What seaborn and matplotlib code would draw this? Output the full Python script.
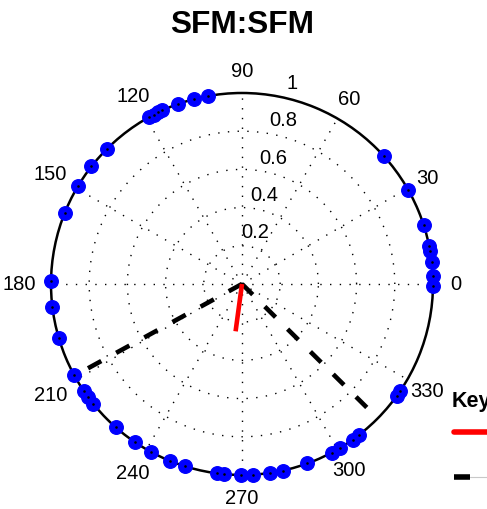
import numpy as np
import pandas as pd
import matplotlib
matplotlib.use("Agg")
import matplotlib.pyplot as plt
from matplotlib.lines import Line2D
import seaborn as sns

# ── data ────────────────────────────────────────────────────
# phase angles (deg) of the individual observations, all on the unit circle
angles_deg = [
    359.5, 2.5, 6.5, 10.0, 11.5, 18.0, 29.5, 42.0,
    100.3, 104.5, 109.5, 114.6, 116.0, 117.5, 119.0,
    135.0, 142.0, 149.3, 158.3, 179.0,
    187.0, 196.4, 208.3, 214.2, 216.2, 218.8, 228.6, 236.0,
    241.7, 248.0, 252.5, 262.4, 264.6, 269.8,
    273.4, 278.4, 282.4, 290.0, 298.0, 301.0, 305.4, 307.8,
    324.2, 326.0,
]
# mean resultant vector (red)
mean_angle = 262.3
mean_length = 0.25
# confidence limits (black dashed)
ci_angles = [208.7, 315.3]
ci_length = 0.92

ring_ticks = [0.2, 0.4, 0.6, 0.8, 1.0]
ring_labels = ["0.2", "0.4", "0.6", "0.8", "1"]
spoke_angles = [0, 30, 60, 90, 120, 150, 180, 210, 240, 270, 300, 330]

title = "SFM:SFM"
key_title = "Key"

# ── style ───────────────────────────────────────────────────
sns.set_style("white")
plt.rcParams["font.family"] = ["Liberation Sans", "DejaVu Sans"]
plt.rcParams["text.color"] = "black"

fig = plt.figure(figsize=(4.87, 5.10), dpi=100)
ax = fig.add_axes([0.1047, 0.0667, 0.7844, 0.749], projection="polar")
ax.set_facecolor("white")

# dotted grid
ax.grid(False)
theta_fine = np.linspace(0, 2 * np.pi, 400)
for r in ring_ticks[:-1]:
    ax.plot(theta_fine, np.full_like(theta_fine, r), color="black",
            lw=1.0, ls=(0, (1, 6)), zorder=1)
for a in spoke_angles:
    ax.plot([np.deg2rad(a)] * 2, [0, 1], color="black",
            lw=1.0, ls=(0, (1, 6)), zorder=1)

# observations
df = pd.DataFrame({"theta": np.deg2rad(angles_deg), "r": 1.0})
sns.scatterplot(data=df, x="theta", y="r", ax=ax, color="blue", s=95,
                edgecolor="blue", linewidth=1, clip_on=False, zorder=5)
ax.scatter(df["theta"], df["r"], s=3.5, color="black", linewidths=0,
           clip_on=False, zorder=6)

# confidence limits and mean vector
for a in ci_angles:
    ax.plot([np.deg2rad(a)] * 2, [0, ci_length], color="black", lw=3.3,
            dashes=(3.3, 3.7), solid_capstyle="butt", zorder=3)
ax.plot([np.deg2rad(mean_angle)] * 2, [0, mean_length], color="red",
        lw=3.3, solid_capstyle="butt", zorder=4)

ax.set_ylim(0, 1)
ax.set_xticks([])
ax.set_yticks([])
ax.set_xlabel("")
ax.set_ylabel("")
ax.spines["polar"].set_linewidth(1.8)
ax.spines["polar"].set_color("black")

# angle labels
for a in spoke_angles:
    t = np.deg2rad(a)
    r_lab = 1.12 + 0.045 * max(0.0, -np.cos(t))
    ax.text(t, r_lab, str(a), ha="center", va="center", fontsize=14.5,
            color="black", clip_on=False)

# radial labels
for r, lab in zip(ring_ticks, ring_labels):
    ax.text(np.deg2rad(76), r + 0.085, lab, ha="center", va="center",
            fontsize=14.5, color="black", clip_on=False)

fig.text(0.497, 0.951, title, ha="center", va="center", fontsize=22.8,
         fontweight="bold", color="black")

# key (runs off the right edge of the canvas)
fig.text(0.928, 0.212, key_title, ha="left", va="center", fontsize=15.5,
         fontweight="bold", color="black")
y_red = 1 - 433 / 510
y_blk = 1 - 478 / 510
fig.add_artist(Line2D([0.932, 1.05], [y_red, y_red], color="red", lw=4,
                      transform=fig.transFigure))
fig.add_artist(Line2D([0.965, 1.05], [y_blk, y_blk], color="#c8c8c8", lw=0.8,
                      transform=fig.transFigure))
fig.add_artist(Line2D([0.932, 0.965], [y_blk, y_blk], color="black", lw=4,
                      solid_capstyle="butt", transform=fig.transFigure))

fig.savefig("out.png", dpi=100)
